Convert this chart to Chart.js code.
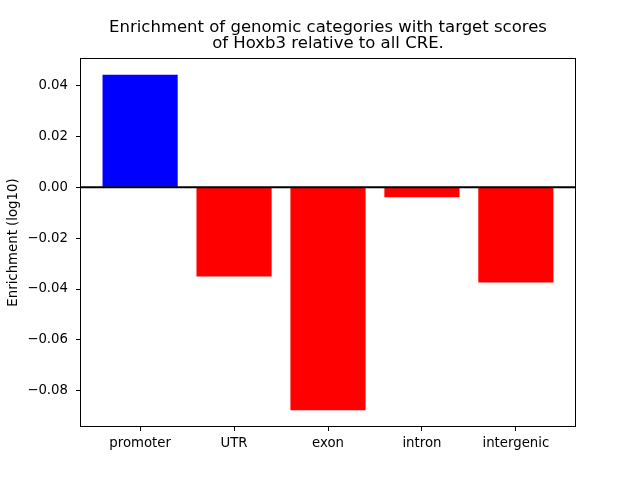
<!DOCTYPE html>
<html>
<head>
<meta charset="utf-8">
<script src="https://cdn.jsdelivr.net/npm/chart.js@4"></script>
<style>
  html, body { margin: 0; padding: 0; background: #fff; }
  canvas { display: block; }
</style>
</head>
<body>
<canvas id="c" width="640" height="480"></canvas>
<script>
const categories = ["promoter", "UTR", "exon", "intron", "intergenic"];
const enrichment = [0.0443, -0.0351, -0.0877, -0.0039, -0.0374];
const yTicks = [-0.08, -0.06, -0.04, -0.02, 0.00, 0.02, 0.04];
const titleLines = ["Enrichment of genomic categories with target scores", "of Hoxb3 relative to all CRE."];
const yLabel = "Enrichment (log10)";

Chart.defaults.color = '#000';
Chart.defaults.font.family = "'DejaVu Sans', sans-serif";

const frame = {
  id: 'frame',
  afterDatasetsDraw(chart) {
    const { ctx, chartArea: a, scales } = chart;
    ctx.save();
    const y0 = scales.y.getPixelForValue(0);
    ctx.strokeStyle = '#000';
    ctx.lineWidth = 2;
    ctx.beginPath();
    ctx.moveTo(a.left, y0);
    ctx.lineTo(a.right, y0);
    ctx.stroke();
    ctx.lineWidth = 1;
    ctx.strokeRect(Math.round(a.left) + 0.5, Math.round(a.top) + 0.5,
                   Math.round(a.right - a.left) - 1, Math.round(a.bottom - a.top) - 1);
    ctx.restore();
  }
};

new Chart(document.getElementById('c'), {
  type: 'bar',
  data: {
    datasets: [{
      data: enrichment.map((v, i) => ({ x: i, y: v })),
      backgroundColor: (c) => (c.raw && c.raw.y >= 0 ? '#0000ff' : '#ff0000'),
      borderWidth: 0,
      barPercentage: 0.8,
      categoryPercentage: 1.0
    }]
  },
  options: {
    responsive: false,
    animation: false,
    layout: { padding: { left: 0, right: 64, top: 0, bottom: 0 } },
    plugins: {
      legend: { display: false },
      tooltip: { enabled: false },
      title: {
        display: true,
        fullSize: false,
        text: titleLines,
        color: '#000',
        font: { size: 16.5, weight: 'normal', lineHeight: 16 / 16.5 },
        padding: { top: 19.5, bottom: 6.5 }
      }
    },
    scales: {
      x: {
        type: 'linear',
        min: -0.64,
        max: 4.64,
        offset: false,
        grid: { offset: false, drawOnChartArea: false, drawTicks: true, tickLength: 4, tickColor: '#000', tickWidth: 1 },
        border: { display: false },
        afterBuildTicks: (s) => { s.ticks = categories.map((_, i) => ({ value: i })); },
        afterFit: (s) => { s.height = 53; },
        ticks: {
          color: '#000',
          font: { size: 13.3 },
          padding: 5,
          maxRotation: 0,
          autoSkip: false,
          callback: (v) => categories[v] ?? ''
        }
      },
      y: {
        min: -0.0943,
        max: 0.0509,
        grid: { drawOnChartArea: false, drawTicks: true, tickLength: 4, tickColor: '#000', tickWidth: 1 },
        border: { display: false },
        afterBuildTicks: (s) => { s.ticks = yTicks.map(v => ({ value: v })); },
        afterFit: (s) => { s.width = 80; },
        ticks: {
          color: '#000',
          font: { size: 13.3 },
          padding: 8,
          callback: (v) => (Math.abs(v) < 1e-9 ? '0.00' : v.toFixed(2).replace('-', '\u2212'))
        },
        title: {
          display: true,
          text: yLabel,
          color: '#000',
          font: { size: 13.3 },
          padding: { top: 6, bottom: 0 }
        }
      }
    }
  },
  plugins: [frame]
});
</script>
</body>
</html>
